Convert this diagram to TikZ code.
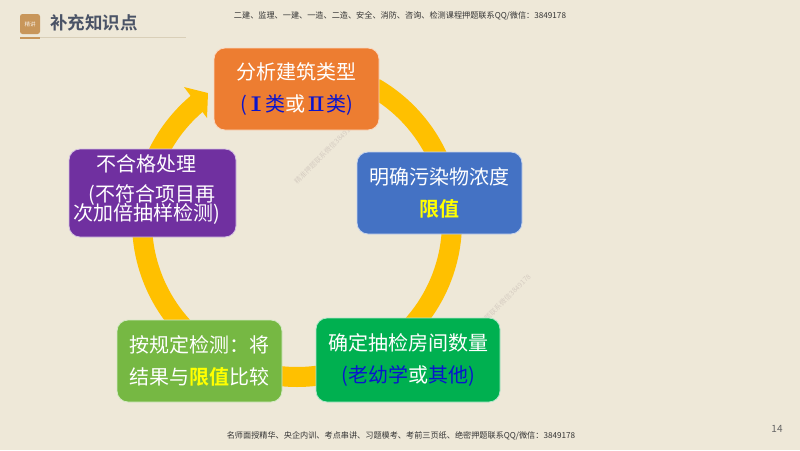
\documentclass[tikz,border=0pt]{standalone}
\usepackage{fontspec}
\setmainfont{Noto Sans CJK SC}
\newfontfamily\cjkbold{Noto Sans CJK SC Bold}
\newfontfamily\romanfont{DejaVu Serif}
\definecolor{bgc}{HTML}{EEE8D8}
\definecolor{ringc}{HTML}{FFC000}
\definecolor{orangec}{HTML}{ED7D31}
\definecolor{bluec}{HTML}{4472C4}
\definecolor{purplec}{HTML}{7030A0}
\definecolor{limec}{HTML}{76B843}
\definecolor{greenc}{HTML}{00B050}
\definecolor{darkblue}{HTML}{0A14CD}
\definecolor{hlyellow}{HTML}{FFFF00}
\definecolor{headc}{HTML}{4A5366}
\definecolor{logoc}{HTML}{C8965A}
\definecolor{rulec}{HTML}{D9CFB8}
\definecolor{wmc}{HTML}{D6CDC2}
\tikzset{
 x=1pt,y=-1pt,
 stage/.style={draw=white!70!#1,fill=#1,line width=0.8pt,rounded corners=11pt,inner sep=0pt,align=center,text=white,font=\fontsize{20}{32}\selectfont,execute at begin node={\rule{0pt}{21pt}}},
 ringarc/.style={draw=ringc,line width=20pt},
 small/.style={font=\fontsize{8.15}{10}\selectfont,text=black!80,inner sep=0pt},
 wmtext/.style={font=\fontsize{7}{8}\selectfont,text=wmc,rotate=45,inner sep=0pt},
 failtext/.style={text=white,inner sep=0pt,font=\fontsize{20}{24}\selectfont}
}
\newcommand{\hlt}[1]{{\cjkbold\textcolor{hlyellow}{#1}}}
\newcommand{\blt}[1]{\textcolor{darkblue}{#1}}
\newcommand{\numone}{\hspace{3pt}\scalebox{1.6}[1]{\romanfont Ⅰ}\hspace{3pt}}
\newcommand{\numtwo}{\hspace{2pt}\scalebox{1.3}[1]{\romanfont Ⅱ}\hspace{1pt}}
\begin{document}
\begin{tikzpicture}
\useasboundingbox (0,0) rectangle (800,450);
\fill[bgc] (0,0) rectangle (800,450);
% header
\node[fill=logoc,rounded corners=2.5pt,minimum width=20pt,minimum height=20pt,inner sep=0pt,text=white!85!logoc,font=\fontsize{5.5}{6}\selectfont] (logo) at (30,24) {精讲};
\node[anchor=west,inner sep=0pt,text=headc,font=\cjkbold\fontsize{17.5}{20}\selectfont] (title) at (50,22.5) {补充知识点};
\draw[logoc,line width=2pt] (20,37.5) -- (40,37.5);
\draw[rulec,line width=1pt] (40,37.5) -- (186,37.5);
\node[small] (toptext) at (400,15.5) {二建、监理、一建、一造、二造、安全、消防、咨询、检测课程押题联系QQ/微信：3849178};
\node[small] (bottext) at (401,436) {名师面授精华、央企内训、考点串讲、习题模考、考前三页纸、绝密押题联系QQ/微信：3849178};
\node[inner sep=0pt,text=black!60,font=\fontsize{10}{12}\selectfont] (pageno) at (777,429) {14};
% watermark
\node[wmtext] (wma) at (325,153) {精准押题联系微信3849178};
\node[wmtext] (wmb) at (500,305) {精准押题联系微信3849178};
% ring (visual angles, y axis points down)
\coordinate (hub) at (297,222);
\draw[ringarc] (hub) ++(-60:155) coordinate (ra) arc[start angle=60,end angle=20,radius=155pt];
\draw[ringarc] (hub) ++(0:155) coordinate (rb) arc[start angle=0,end angle=-55,radius=155pt];
\draw[ringarc] (hub) ++(75:155) coordinate (rc) arc[start angle=-75,end angle=-105,radius=155pt];
\draw[ringarc] (hub) ++(125:155) coordinate (rd) arc[start angle=-125,end angle=-180,radius=155pt];
\draw[ringarc] (hub) ++(180:155) coordinate (re) arc[start angle=180,end angle=130,radius=155pt] coordinate (rf);
\coordinate (tipa) at (208,93);
\coordinate (tipb) at (184,87);
\coordinate (tipc) at (207,118);
\fill[ringc] (tipa) -- (tipb) -- (tipc) -- cycle;
% stages
\node[stage=orangec,minimum width=165pt,minimum height=82pt] (analyse) at (296.5,89)
 {分析建筑类型\\\blt{(\numone 类}或\blt{\numtwo 类)}};
\node[stage=bluec,minimum width=165pt,minimum height=82pt] (limit) at (439.5,193)
 {明确污染物浓度\\\hlt{限值}};
\node[stage=greenc,minimum width=184pt,minimum height=84pt] (rooms) at (408,360)
 {确定抽检房间数量\\\blt{(老幼学}或\blt{其他)}};
\node[stage=limec,minimum width=165pt,minimum height=82pt] (test) at (199.5,361)
 {按规定检测：将\\结果与\hlt{限值}比较};
\node[stage=purplec,minimum width=167pt,minimum height=88pt,execute at begin node={}] (fail) at (152.5,193) {};
\node[failtext] (failone) at (146,163.5) {不合格处理};
\node[failtext] (failtwo) at (152,195.5) {(不符合项目再};
\node[failtext] (failthree) at (147,213.5) {次加倍抽样检测)};
\end{tikzpicture}
\end{document}
